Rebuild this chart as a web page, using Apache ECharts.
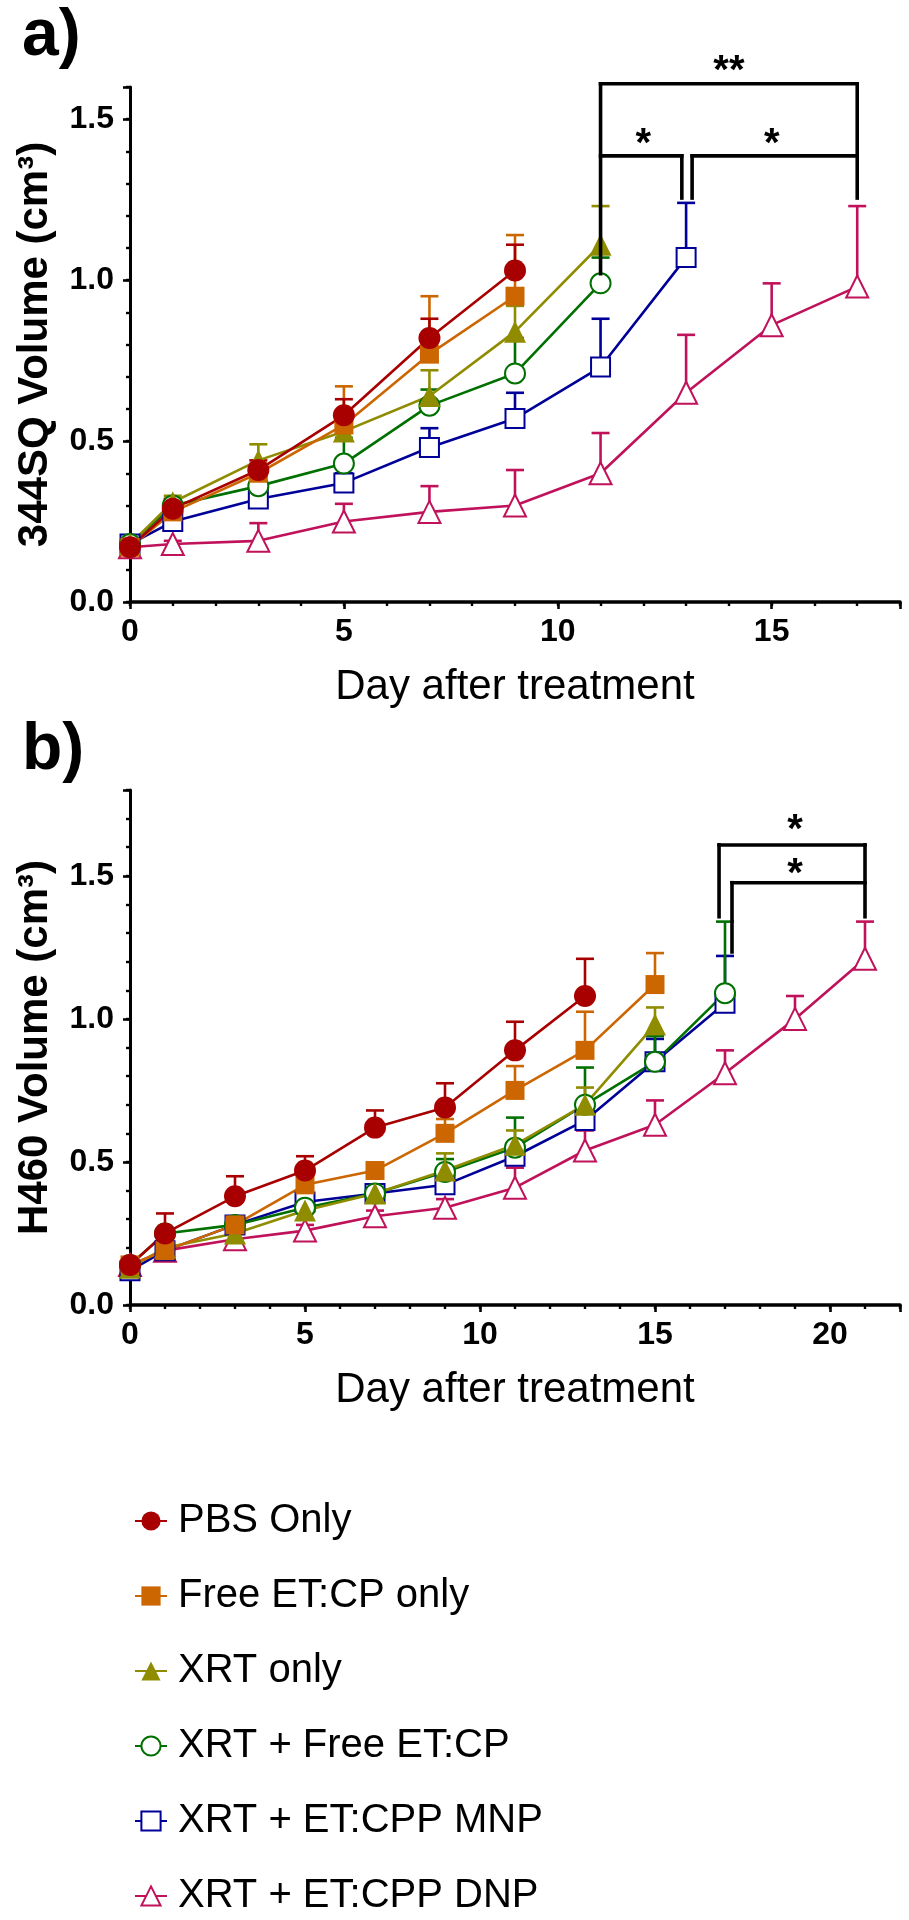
<!DOCTYPE html>
<html>
<head>
<meta charset="utf-8">
<script src="https://cdn.jsdelivr.net/npm/echarts@6/dist/echarts.min.js"></script>
<style>
html,body{margin:0;padding:0;background:#fff;}
#chart{width:909px;height:1920px;}
</style>
</head>
<body>
<div id="chart"></div>
<script>
// ---------- data ----------
const daysA = [0, 1, 3, 5, 7, 9, 11, 13, 15, 17];
const daysB = [0, 1, 3, 5, 7, 9, 11, 13, 15, 17, 19, 21];
const groupNames = ['PBS Only', 'Free ET:CP only', 'XRT only', 'XRT + Free ET:CP', 'XRT + ET:CPP MNP', 'XRT + ET:CPP DNP'];
const xTicksA = [0, 5, 10, 15];
const xTicksB = [0, 5, 10, 15, 20];
const yTicks = [0.0, 0.5, 1.0, 1.5];

// panel a) 344SQ : mean and mean+SEM
const a_pbs      = [0.17, 0.29, 0.41, 0.58, 0.82, 1.03];
const a_pbsUp    = [0.18, 0.32, 0.44, 0.63, 0.88, 1.11];
const a_free     = [0.17, 0.28, 0.40, 0.55, 0.77, 0.95];
const a_freeUp   = [0.18, 0.31, 0.43, 0.67, 0.95, 1.14];
const a_xrt      = [0.18, 0.31, 0.44, 0.53, 0.64, 0.84, 1.11];
const a_xrtUp    = [0.19, 0.33, 0.49, 0.58, 0.72, 0.92, 1.23];
const a_xfree    = [0.18, 0.30, 0.36, 0.43, 0.61, 0.71, 0.99];
const a_xfreeUp  = [0.19, 0.32, 0.39, 0.51, 0.66, 0.82, 1.07];
const a_mnp      = [0.18, 0.25, 0.32, 0.37, 0.48, 0.57, 0.73, 1.07];
const a_mnpUp    = [0.19, 0.27, 0.34, 0.40, 0.54, 0.65, 0.88, 1.24];
const a_dnp      = [0.17, 0.18, 0.19, 0.25, 0.28, 0.30, 0.40, 0.65, 0.86, 0.98];
const a_dnpUp    = [0.18, 0.19, 0.245, 0.305, 0.36, 0.41, 0.525, 0.83, 0.99, 1.23];

// panel b) H460
const b_pbs      = [0.14, 0.25, 0.38, 0.47, 0.62, 0.69, 0.89, 1.08];
const b_pbsUp    = [0.15, 0.32, 0.45, 0.52, 0.68, 0.775, 0.99, 1.21];
const b_free     = [0.14, 0.19, 0.28, 0.42, 0.47, 0.60, 0.75, 0.89, 1.12];
const b_freeUp   = [0.15, 0.21, 0.30, 0.45, 0.49, 0.65, 0.835, 1.025, 1.23];
const b_xrt      = [0.13, 0.20, 0.25, 0.33, 0.39, 0.47, 0.56, 0.70, 0.98];
const b_xrtUp    = [0.14, 0.21, 0.27, 0.36, 0.42, 0.53, 0.61, 0.76, 1.04];
const b_xfree    = [0.14, 0.25, 0.28, 0.34, 0.39, 0.465, 0.55, 0.70, 0.85, 1.09];
const b_xfreeUp  = [0.15, 0.26, 0.30, 0.36, 0.41, 0.51, 0.655, 0.83, 0.94, 1.34];
const b_mnp      = [0.12, 0.19, 0.28, 0.36, 0.39, 0.42, 0.52, 0.645, 0.85, 1.055];
const b_mnpUp    = [0.13, 0.21, 0.31, 0.38, 0.41, 0.45, 0.55, 0.69, 0.93, 1.22];
const b_dnp      = [0.14, 0.19, 0.23, 0.26, 0.31, 0.34, 0.41, 0.54, 0.63, 0.81, 1.00, 1.21];
const b_dnpUp    = [0.15, 0.20, 0.25, 0.28, 0.33, 0.37, 0.48, 0.61, 0.715, 0.89, 1.08, 1.34];

// significance brackets (segments in data space: day1, vol1, day2, vol2)
const bracketsA = [
  [11, 1.02, 11, 1.61], [11, 1.61, 17, 1.61], [17, 1.61, 17, 1.255],
  [11, 1.386, 12.9, 1.386], [12.9, 1.386, 12.9, 1.255],
  [13.14, 1.255, 13.14, 1.386], [13.14, 1.386, 17, 1.386]
];
const starsA = [[14, 1.673, '**'], [12, 1.446, '*'], [15, 1.446, '*']];
const bracketsB = [
  [16.83, 1.357, 16.83, 1.608], [16.83, 1.608, 21, 1.608], [21, 1.608, 21, 1.357],
  [17.2, 1.234, 17.2, 1.476], [17.2, 1.476, 21, 1.476]
];
const starsB = [[19, 1.685, '*'], [19, 1.53, '*']];

// ---------- styles ----------
const FONT = 'Liberation Sans, Arial, sans-serif';
const colors = ['#a80000', '#cc6600', '#8f8c00', '#007000', '#000099', '#c0125a'];
const symbols = ['circle', 'rect', 'triangle', 'emptyCircle', 'emptyRect', 'emptyTriangle'];
const symSizes = [22, 19, 22, 20, 19, 22];

const meansA = [a_pbs, a_free, a_xrt, a_xfree, a_mnp, a_dnp];
const upsA = [a_pbsUp, a_freeUp, a_xrtUp, a_xfreeUp, a_mnpUp, a_dnpUp];
const meansB = [b_pbs, b_free, b_xrt, b_xfree, b_mnp, b_dnp];
const upsB = [b_pbsUp, b_freeUp, b_xrtUp, b_xfreeUp, b_mnpUp, b_dnpUp];

function errRender(color) {
  return function (params, api) {
    const x = api.value(0), m = api.value(1), u = api.value(2);
    const p0 = api.coord([x, m]);
    const p1 = api.coord([x, u]);
    const st = { stroke: color, lineWidth: 2.6 };
    return {
      type: 'group',
      children: [
        { type: 'line', shape: { x1: p0[0], y1: p0[1], x2: p1[0], y2: p1[1] }, style: st },
        { type: 'line', shape: { x1: p1[0] - 9, y1: p1[1], x2: p1[0] + 9, y2: p1[1] }, style: st }
      ]
    };
  };
}

const series = [];
function addPanel(grid, days, means, ups) {
  for (let g = groupNames.length - 1; g >= 0; g--) {
    const c = colors[g];
    const empty = symbols[g].indexOf('empty') === 0;
    series.push({
      name: groupNames[g] + ' err' + grid,
      type: 'custom',
      xAxisIndex: grid * 2, yAxisIndex: grid * 2,
      renderItem: errRender(c),
      encode: { x: 0, y: [1, 2] },
      data: means[g].map((v, i) => [days[i], v, ups[g][i]]),
      z: 2, silent: true
    });
    series.push({
      name: groupNames[g],
      type: 'line',
      xAxisIndex: grid * 2, yAxisIndex: grid * 2,
      data: means[g].map((v, i) => [days[i], v]),
      symbol: symbols[g],
      symbolSize: symSizes[g],
      lineStyle: { color: c, width: 2.6 },
      itemStyle: empty ? { color: c, borderColor: c, borderWidth: 2.6 } : { color: c, borderWidth: 0 },
      z: 3, animation: false
    });
  }
}
addPanel(0, daysA, meansA, upsA);
addPanel(1, daysB, meansB, upsB);

function bracketSeries(grid, segs, stars) {
  series.push({
    type: 'custom', name: 'brackets' + grid,
    xAxisIndex: grid * 2, yAxisIndex: grid * 2,
    encode: { x: [0, 2], y: [1, 3] },
    data: segs,
    clip: false, silent: true, z: 5,
    renderItem: function (params, api) {
      const p0 = api.coord([api.value(0), api.value(1)]);
      const p1 = api.coord([api.value(2), api.value(3)]);
      return { type: 'line', shape: { x1: p0[0], y1: p0[1], x2: p1[0], y2: p1[1] },
        style: { stroke: '#000', lineWidth: 3.6, lineCap: 'square' } };
    }
  });
  series.push({
    type: 'custom', name: 'stars' + grid,
    xAxisIndex: grid * 2, yAxisIndex: grid * 2,
    encode: { x: 0, y: 1 },
    data: stars,
    clip: false, silent: true, z: 5,
    renderItem: function (params, api) {
      const p = api.coord([api.value(0), api.value(1)]);
      return { type: 'text', x: p[0], y: p[1] + 8,
        style: { text: stars[params.dataIndex][2], font: 'bold 40px ' + FONT, fill: '#000',
          align: 'center', verticalAlign: 'middle' } };
    }
  });
}
bracketSeries(0, bracketsA, starsA);
bracketSeries(1, bracketsB, starsB);

function mainX(grid, max, ticks) {
  return {
    gridIndex: grid, type: 'value', min: 0, max: max, interval: 5, position: 'bottom',
    name: 'Day after treatment', nameLocation: 'middle', nameGap: 64,
    nameTextStyle: { fontFamily: FONT, fontSize: 42, color: '#000' },
    axisLine: { show: true, lineStyle: { color: '#000', width: 3.6 } },
    axisTick: { show: true, inside: false, length: 7, lineStyle: { color: '#000', width: 2.6 } },
    axisLabel: { margin: 14, fontFamily: FONT, fontSize: 32, fontWeight: 'bold', color: '#000',
      formatter: v => ticks.indexOf(v) >= 0 ? String(v) : '' },
    splitLine: { show: false }
  };
}
function minorX(grid, max) {
  return {
    gridIndex: grid, type: 'value', min: 0, max: max, interval: 1, position: 'bottom',
    axisLine: { show: false }, axisLabel: { show: false }, splitLine: { show: false },
    axisTick: { show: true, length: 4, lineStyle: { color: '#000', width: 2.4 } }
  };
}
function mainY(grid, max, name) {
  return {
    gridIndex: grid, type: 'value', min: 0, max: max, interval: 0.5, position: 'left',
    name: name, nameLocation: 'middle', nameGap: 74,
    nameTextStyle: { fontFamily: FONT, fontSize: 42, fontWeight: 'bold', color: '#000' },
    axisLine: { show: true, lineStyle: { color: '#000', width: 3 } },
    axisTick: { show: true, length: 7, lineStyle: { color: '#000', width: 2.6 } },
    axisLabel: { margin: 16, fontFamily: FONT, fontSize: 32, fontWeight: 'bold', color: '#000',
      formatter: v => {
        const hit = yTicks.some(t => Math.abs(t - v) < 1e-6);
        return hit ? v.toFixed(1) : '';
      } },
    splitLine: { show: false }
  };
}
function minorY(grid, max) {
  return {
    gridIndex: grid, type: 'value', min: 0, max: max, interval: 0.1, position: 'left',
    axisLine: { show: false }, axisLabel: { show: false }, splitLine: { show: false },
    axisTick: { show: true, length: 4, lineStyle: { color: '#000', width: 2.4 } }
  };
}

const option = {
  backgroundColor: '#fff',
  animation: false,
  grid: [
    { left: 130, top: 87, width: 770, height: 515 },
    { left: 130, top: 790, width: 770, height: 515 }
  ],
  xAxis: [mainX(0, 18, xTicksA), minorX(0, 18), mainX(1, 22, xTicksB), minorX(1, 22)],
  yAxis: [mainY(0, 1.6, '344SQ Volume (cm³)'), minorY(0, 1.6), mainY(1, 1.8, 'H460 Volume (cm³)'), minorY(1, 1.8)],
  legend: {
    data: groupNames,
    orient: 'vertical',
    left: 134, top: 1501,
    padding: 0,
    itemWidth: 32, itemHeight: 24, itemGap: 35,
    textStyle: { fontFamily: FONT, fontSize: 40, color: '#000', lineHeight: 40, padding: [0, 0, 0, 6] },
    selectedMode: false
  },
  graphic: [
    { type: 'text', left: 22, top: 4, style: { text: 'a)', font: 'bold 66px ' + FONT, fill: '#000' } },
    { type: 'text', left: 22, top: 718, style: { text: 'b)', font: 'bold 66px ' + FONT, fill: '#000' } }
  ],
  series: series
};

const chart = echarts.init(document.getElementById('chart'), null, { renderer: 'canvas' });
chart.setOption(option);
</script>
</body>
</html>
